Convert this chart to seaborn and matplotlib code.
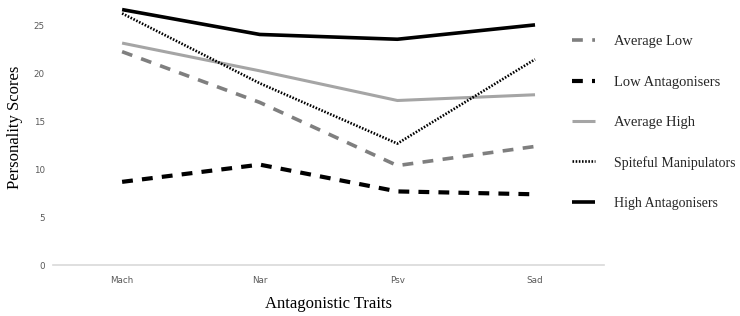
import matplotlib
matplotlib.use("Agg")
import matplotlib.pyplot as plt
import seaborn as sns
import pandas as pd

traits = ["Mach", "Nar", "Psv", "Sad"]
average_low = [22.3, 17.0, 10.4, 12.4]
low_antagonisers = [8.7, 10.5, 7.7, 7.4]
average_high = [23.2, 20.3, 17.2, 17.8]
spiteful_manipulators = [26.3, 19.0, 12.7, 21.5]
high_antagonisers = [26.7, 24.1, 23.6, 25.1]
y_ticks = [0, 5, 10, 15, 20, 25]

series = {
    "Average Low": average_low,
    "Low Antagonisers": low_antagonisers,
    "Average High": average_high,
    "Spiteful Manipulators": spiteful_manipulators,
    "High Antagonisers": high_antagonisers,
}
styles = {
    "Average Low": dict(color="#7f7f7f", lw=2.6, dashes=(3.0, 2.6)),
    "Low Antagonisers": dict(color="black", lw=3.0, dashes=(2.6, 2.2)),
    "Average High": dict(color="#a5a5a5", lw=2.2, dashes=None),
    "Spiteful Manipulators": dict(color="black", lw=1.9, dashes=(0.6, 0.6)),
    "High Antagonisers": dict(color="black", lw=2.6, dashes=None),
}

rows = []
for name, vals in series.items():
    for i, (t, v) in enumerate(zip(traits, vals)):
        rows.append({"group": name, "trait": t, "pos": i, "score": v})
df = pd.DataFrame(rows)

sns.set_style("white")
fig = plt.figure(figsize=(7.4, 3.16), dpi=100)
ax = fig.add_axes([0.072, 0.161, 0.744, 0.839])

for name in series:
    st = styles[name]
    sub = df[df["group"] == name]
    line_ax = sns.lineplot(data=sub, x="pos", y="score", ax=ax, color=st["color"],
                           linewidth=st["lw"], label=name, legend=False)
    ln = line_ax.get_lines()[-1]
    if st["dashes"] is not None:
        ln.set_dashes(st["dashes"])
        ln.set_dash_capstyle("butt")
    ln.set_solid_capstyle("butt")

ax.set_xlim(-0.5, 3.5)
ax.set_ylim(0, 27.7)
ax.set_xticks(range(len(traits)))
ax.set_xticklabels(traits)
ax.set_yticks(y_ticks)
for lab in ax.get_xticklabels() + ax.get_yticklabels():
    lab.set_family("DejaVu Sans")
    lab.set_fontsize(6.3)
    lab.set_color("#595959")
ax.tick_params(axis="x", length=0, pad=8)
ax.tick_params(axis="y", length=0, pad=6)

for s in ["top", "right", "left"]:
    ax.spines[s].set_visible(False)
ax.spines["bottom"].set_color("#d9d9d9")
ax.spines["bottom"].set_linewidth(1.2)
ax.grid(False)

ax.set_xlabel("Antagonistic Traits", family="Liberation Serif", fontsize=12, color="black", labelpad=8)
ax.set_ylabel("Personality Scores", family="Liberation Serif", fontsize=12, color="black")
ax.yaxis.set_label_coords(-0.055, 0.52)

handles = ax.get_lines()
leg = fig.legend(handles, list(series.keys()), loc="upper left", bbox_to_anchor=(0.755, 0.93),
                 frameon=False, handlelength=1.6, handletextpad=1.3, labelspacing=1.85,
                 prop={"family": "Liberation Serif", "size": 10.5})
texts = leg.get_texts()
for t in texts[3:]:
    t.set_fontsize(10)

fig.savefig("out.png", dpi=100)
